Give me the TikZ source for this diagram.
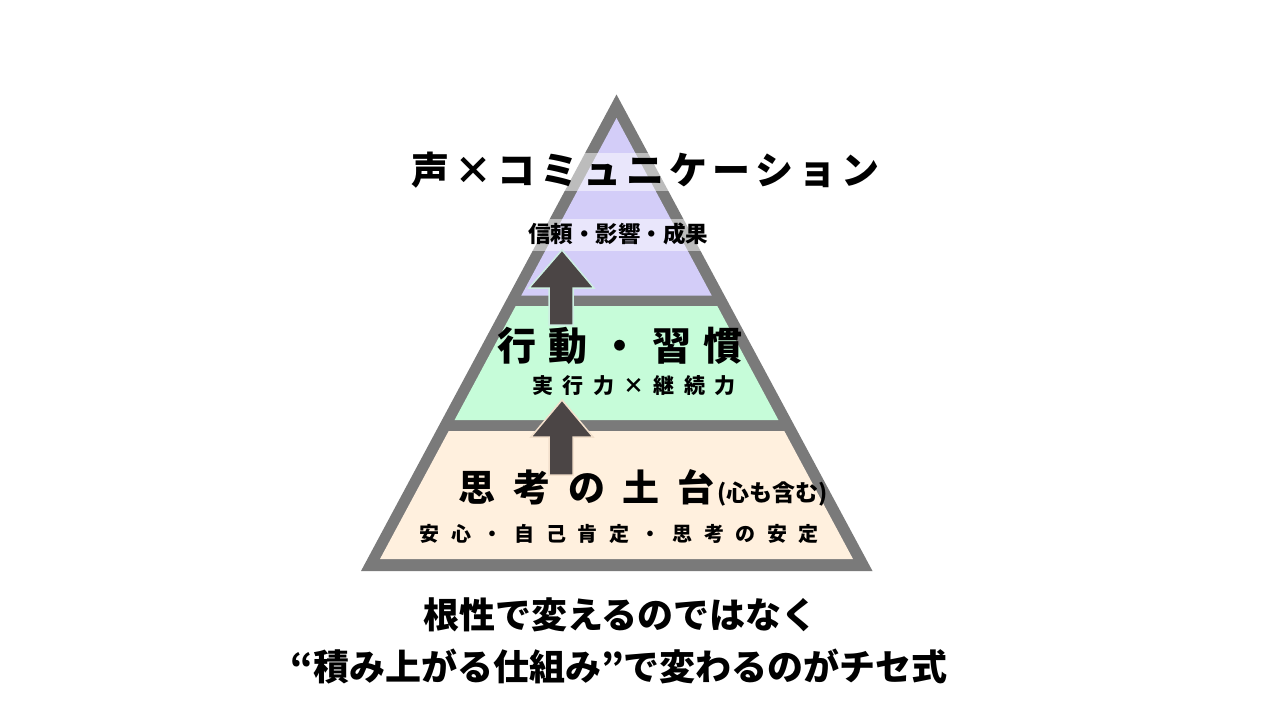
\documentclass[tikz,border=0pt]{standalone}
\usepackage{fontspec}
\setmainfont{Noto Sans CJK JP}
\definecolor{tri}{HTML}{7A7A7A}
\definecolor{lav}{HTML}{D3CDF8}
\definecolor{mint}{HTML}{C6FCD9}
\definecolor{cream}{HTML}{FFF0DE}
\definecolor{arr}{HTML}{4B4545}
\definecolor{arrlineA}{HTML}{CDEEE2}
\definecolor{arrlineB}{HTML}{F3E0CC}
\newcommand\lsp[2]{\def\lspk{#1}\lspA#2\relax\kern-#1\relax}
\def\lspA#1{\ifx\relax#1\else#1\kern\lspk\relax\expandafter\lspA\fi}
\tikzset{
  txt/.style={inner sep=0pt, text=black},
  fs/.style={font={\fontsize{#1}{#1}\selectfont\bfseries}},
  band/.style={fill=white, fill opacity=0.5},
  blockarrow/.style={fill=arr, line width=1.5pt, line join=miter},
}
\begin{document}
\begin{tikzpicture}[x=1pt,y=-1pt]
\useasboundingbox (0,0) rectangle (1280,720);
% pyramid
\fill[tri] (616.5,94.5) -- (872.5,571) -- (361,571) -- cycle;
\fill[lav] (616.5,118) -- (711.7,295.5) -- (521.3,295.5) -- cycle;
\fill[mint] (515.7,306) -- (717.3,306) -- (778.4,420) -- (454.6,420) -- cycle;
\fill[cream] (448.7,431) -- (784.3,431) -- (853,559) -- (380,559) -- cycle;
% translucent bands behind texts
\fill[band] (400,153) rectangle (890,191);
\fill[band] (505,219) rectangle (730,250.5);
% arrows
\draw[blockarrow, draw=arrlineA] (562,250) -- (594,288) -- (573,288) -- (573,325) -- (549,325) -- (549,288) -- (529,288) -- cycle;
\draw[blockarrow, draw=arrlineB] (562,400) -- (593,437) -- (573,437) -- (573,475) -- (549,475) -- (549,437) -- (531,437) -- cycle;
% texts
\node[txt, fs=38] (title) at (645.8,170) {\lsp{5pt}{声×コミュニケーション}};
\node[txt, fs=22.5] (top) at (618.3,234) {信頼・影響・成果};
\node[txt, fs=39] (mid) at (620,345.5) {\lsp{12.7pt}{行動・習慣}};
\node[txt, fs=21] (midsub) at (634,386) {\lsp{9.3pt}{実行力×継続力}};
\node[txt, fs=37] (base) at (586.7,487.5) {\lsp{17.7pt}{思考の土台}};
\node[txt, fs=23, anchor=base west] (basenote) at ([xshift=2pt]base.base east) {(心も含む)};
\node[txt, fs=20] (basesub) at (619.2,534) {\lsp{11.6pt}{安心・自己肯定・思考の安定}};
\node[txt, fs=36] (line1) at (620.5,615) {根性で変えるのではなく};
\node[txt, fs=36] (line2) at (619,667) {“積み上がる仕組み”で変わるのがチセ式};
\end{tikzpicture}
\end{document}
